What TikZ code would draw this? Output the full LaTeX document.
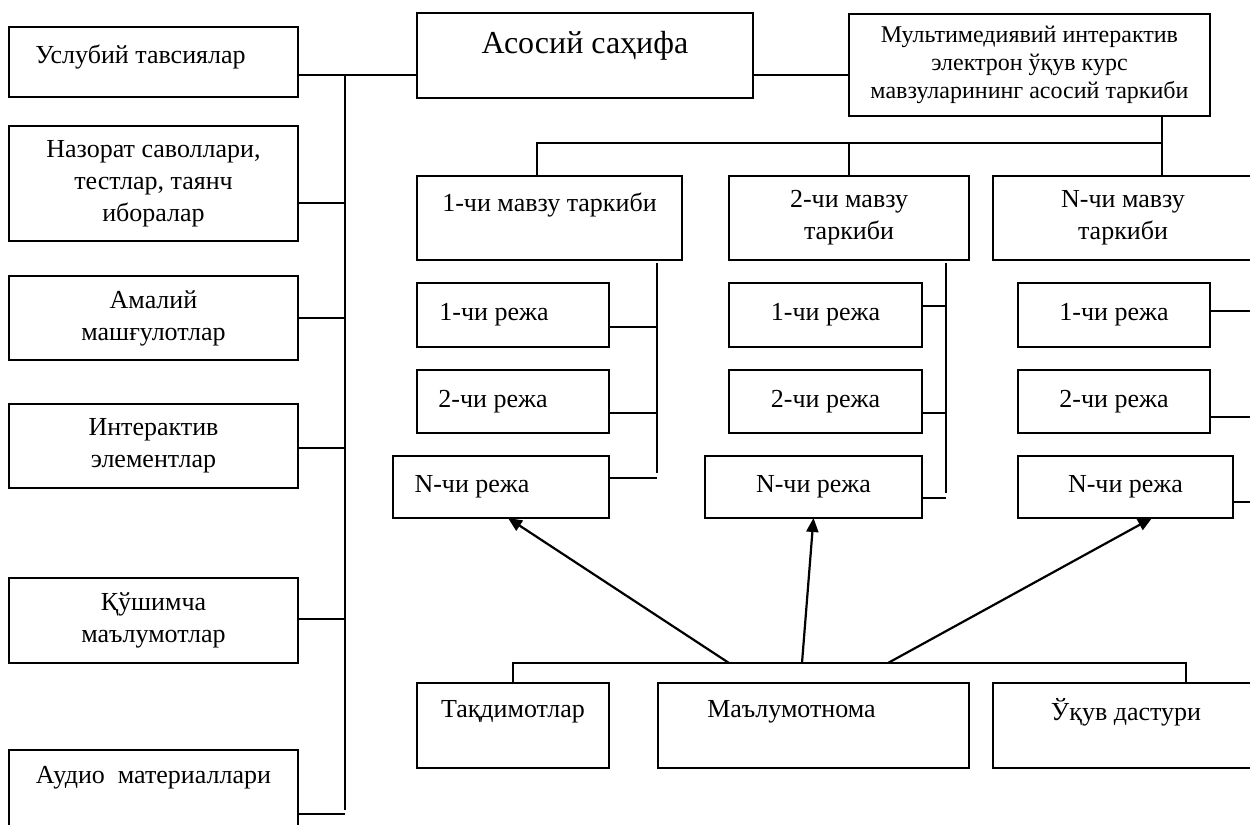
\documentclass[tikz,border=0pt]{standalone}
\usepackage{fontspec}
\setmainfont{Liberation Serif}
\usetikzlibrary{arrows.meta, positioning, calc}

\begin{document}
\begin{tikzpicture}[
    x=0.5pt, y=-0.5pt,
    box/.style={draw, line width=0.9pt, inner sep=0pt, outer sep=0pt, align=center, font=\fontsize{13}{16}\selectfont},
    side/.style={box, minimum width=144.5pt},
    plan/.style={box, minimum width=96pt, minimum height=32pt},
    planN/.style={box, minimum width=108pt, minimum height=31pt},
    link/.style={line width=0.9pt},
    arrow/.style={-{Triangle[length=7pt, width=6pt]}, line width=1.1pt},
    lift/.style={text depth=#1},
    shl/.style={execute at end node={\hspace*{#1}}},
]
    \useasboundingbox (0,0) rectangle (1250,825);

    % Left column
    \node[side, minimum height=35pt, lift=7.8pt, shl=13pt] (usl) at (153.5,62) {Услубий тавсиялар};
    \node[side, minimum height=57.5pt] (naz) at (153.5,183.5) {Назорат саволлари,\\тестлар, таянч\\иборалар};
    \node[side, minimum height=42pt] (amal) at (153.5,318) {Амалий\\машғулотлар};
    \node[side, minimum height=42pt] (inter) at (153.5,446) {Интерактив\\элементлар};
    \node[side, minimum height=42.5pt] (qush) at (153.5,620.5) {Қўшимча\\маълумотлар};
    \node[side, minimum height=42.5pt, lift=17.5pt] (audio) at (153.5,792.5) {Аудио\ \ материаллари};

    % Top row
    \node[box, minimum width=168pt, minimum height=42.5pt, lift=13.5pt, font=\fontsize{16}{18}\selectfont] (asos) at (585,55.5) {Асосий саҳифа};
    \node[box, minimum width=180.5pt, minimum height=51pt, font=\fontsize{12}{14}\selectfont] (multi) at (1029.5,65)
        {Мультимедиявий интерактив\\электрон ўқув курс\\мавзуларининг асосий таркиби};

    % Topics
    \node[box, minimum width=132.5pt, minimum height=42pt, lift=16pt] (m1) at (549.5,218) {1-чи мавзу таркиби};
    \node[box, minimum width=120pt, minimum height=42pt] (m2) at (849,218) {2-чи мавзу\\таркиби};
    \node[box, minimum width=130pt, minimum height=42pt] (mN) at (1123,218) {N-чи мавзу\\таркиби};

    % Plans of topic 1
    \node[plan, shl=19pt] (p11) at (513,315) {1-чи режа};
    \node[plan, shl=20pt, minimum height=31.5pt] (p12) at (513,401.5) {2-чи режа};
    \node[planN, shl=29pt] (p1N) at (501,487) {N-чи режа};

    % Plans of topic 2
    \node[plan, minimum width=96.5pt] (p21) at (825.5,315) {1-чи режа};
    \node[plan, minimum width=96.5pt, minimum height=31.5pt] (p22) at (825.5,401.5) {2-чи режа};
    \node[planN, minimum width=108.5pt] (p2N) at (813.5,487) {N-чи режа};

    % Plans of topic N
    \node[plan] (p31) at (1114,315) {1-чи режа};
    \node[plan, minimum height=31.5pt] (p32) at (1114,401.5) {2-чи режа};
    \node[planN, minimum width=107.5pt] (p3N) at (1125.5,487) {N-чи режа};

    % Bottom row
    \node[box, minimum width=96pt, minimum height=42.5pt, lift=16.5pt] (tak) at (513,725.5) {Тақдимотлар};
    \node[box, minimum width=155.5pt, minimum height=42.5pt, lift=16.5pt, shl=22pt] (mal) at (813.5,725.5) {Маълумотнома};
    \node[box, minimum width=133pt, minimum height=42.5pt, lift=16.5pt] (ukuv) at (1126,725.5) {Ўқув дастури};

    % Bus points
    \coordinate (lbus) at (345,75);
    \coordinate (lend) at (345,810);
    \coordinate (tbus) at (1162,143);
    \coordinate (t1) at (537,143);
    \coordinate (t2) at (849,143);
    \coordinate (c1top) at (657,263);
    \coordinate (c1bot) at (657,473);
    \coordinate (c2top) at (946,263);
    \coordinate (c2bot) at (946,493);
    \coordinate (c3) at (1252,263);
    \coordinate (bl) at (513,663);
    \coordinate (br) at (1186,663);
    \coordinate (a1) at (729,663);
    \coordinate (a2) at (802,663);
    \coordinate (a3) at (888,663);

    % Main page links
    \draw[link] (usl.east) ++(0,13) coordinate (j0) -- (j0 -| asos.west);
    \draw[link] (asos.east) ++(0,19.5) coordinate (j1) -- (j1 -| multi.west);
    \draw[link] (lbus) -- (lend);
    \draw[link] (naz.east) ++(0,19.5) coordinate (j2) -- (j2 -| lbus);
    \draw[link] (amal.east) -- (amal.east -| lbus);
    \draw[link] (inter.east) ++(0,2) coordinate (j3) -- (j3 -| lbus);
    \draw[link] (qush.east) ++(0,-1.5) coordinate (j4) -- (j4 -| lbus);
    \draw[link] (audio.east) ++(0,21.5) coordinate (j5) -- (j5 -| lbus);

    % Topic links
    \draw[link] (multi.south -| tbus) -- (mN.north -| tbus);
    \draw[link] (t1 |- m1.north) -- (t1) -- (tbus);
    \draw[link] (t2) -- (m2.north);

    % Plan links
    \draw[link] (c1top) -- (c1bot);
    \draw[link] (p11.east) ++(0,12) coordinate (k11) -- (k11 -| c1top);
    \draw[link] (p12.east) ++(0,11.5) coordinate (k12) -- (k12 -| c1top);
    \draw[link] (p1N.east) ++(0,-9) coordinate (k13) -- (k13 -| c1top);
    \draw[link] (c2top) -- (c2bot);
    \draw[link] (p21.east) ++(0,-9) coordinate (k21) -- (k21 -| c2top);
    \draw[link] (p22.east) ++(0,11.5) coordinate (k22) -- (k22 -| c2top);
    \draw[link] (p2N.east) ++(0,11) coordinate (k23) -- (k23 -| c2top);
    \draw[link] (p31.east) ++(0,-4) coordinate (k31) -- (k31 -| c3);
    \draw[link] (p32.east) ++(0,15.5) coordinate (k32) -- (k32 -| c3);
    \draw[link] (p3N.east) ++(0,15) coordinate (k33) -- (k33 -| c3);

    % Bottom links
    \draw[link] (tak.north) -- (bl) -- (br) -- (ukuv.north -| br);
    \draw[arrow] (a1) -- ([xshift=3.5pt]p1N.south);
    \draw[arrow] (a2) -- (p2N.south);
    \draw[arrow] (a3) -- ([xshift=13.25pt]p3N.south);
\end{tikzpicture}
\end{document}
